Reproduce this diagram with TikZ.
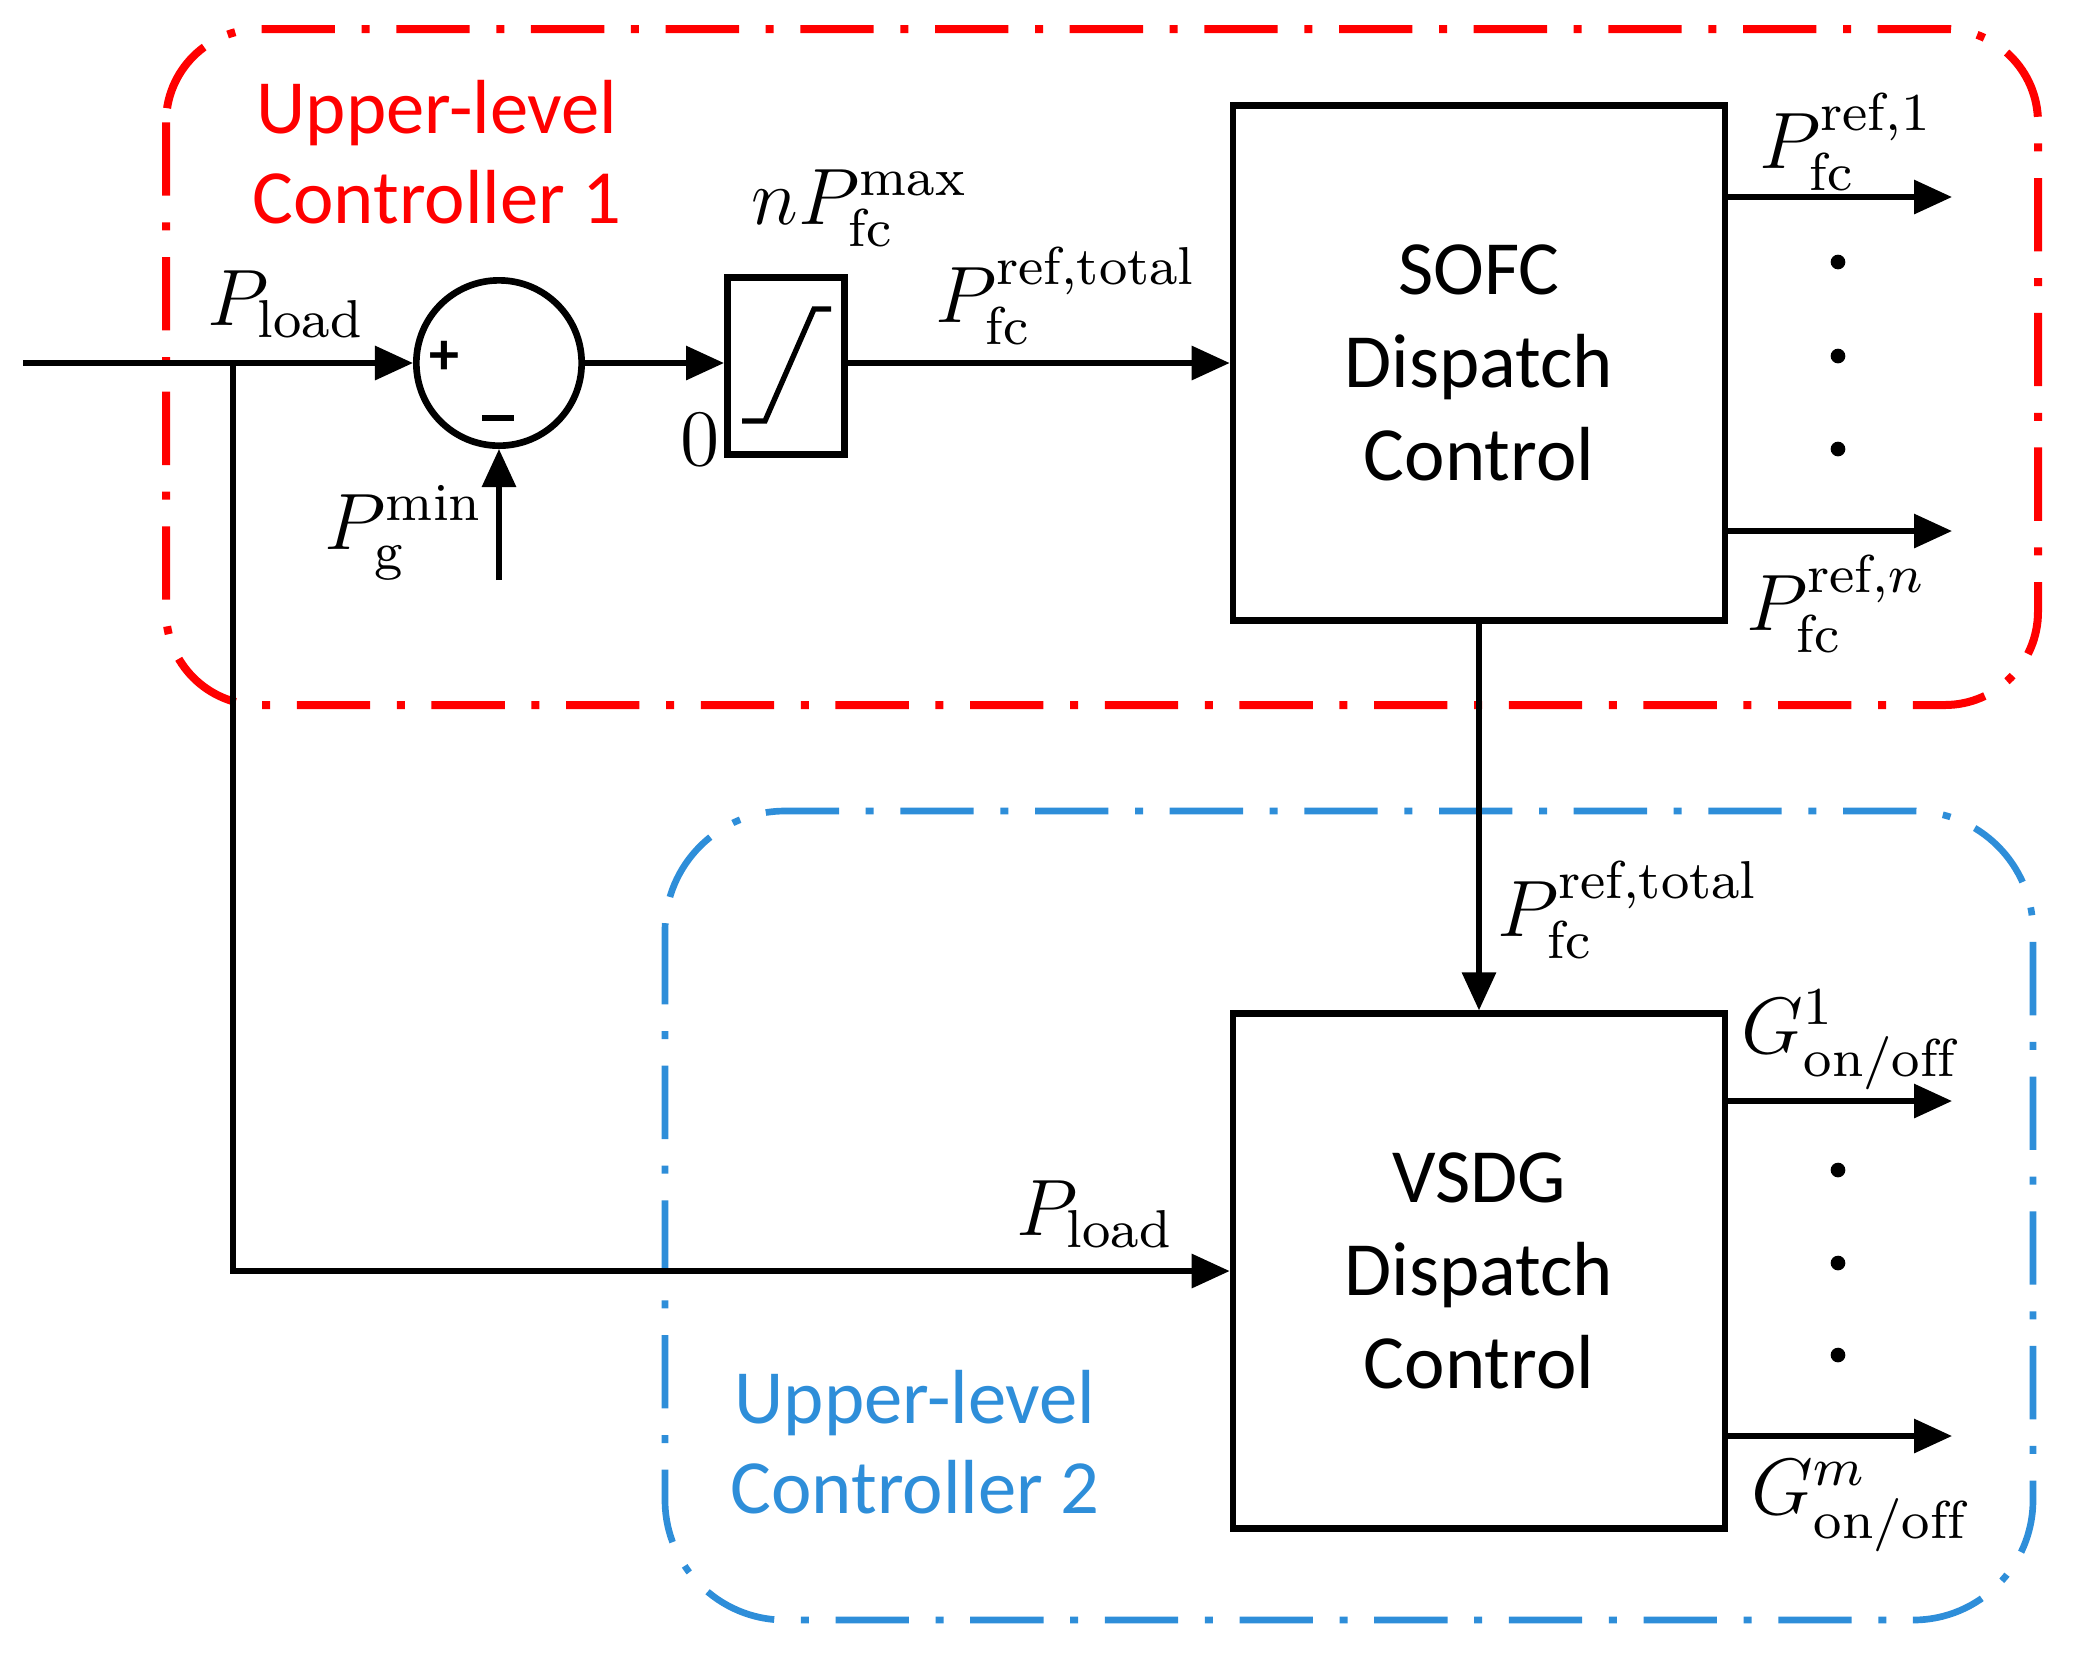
\RequirePackage{fix-cm}
\documentclass[tikz,border=0pt]{standalone}
\usepackage{amsmath}
\usepackage{fontspec}
\newfontfamily\calfont{Carlito}
\usepackage{tikz}
\usetikzlibrary{arrows.meta,calc}
\tikzset{
  sig/.style={-{Triangle[length=5.7pt,width=5pt]}, line width=0.8pt},
  wire/.style={line width=0.8pt},
  block/.style={draw, line width=1pt, minimum width=73.8pt, minimum height=77.2pt,
    inner sep=0pt, align=center, font=\calfont\fontsize{11.5}{14}\selectfont},
  lbl/.style={inner sep=0pt, font=\fontsize{12}{14}\selectfont},
  sign/.style={inner sep=0pt, font=\calfont\bfseries\fontsize{9}{10}\selectfont},
  ctrlbox/.style={rounded corners=#1, dash pattern=on 11pt off 4pt on 1.2pt off 4pt},
  ctrltext/.style={align=center, inner sep=0pt, font=\calfont\fontsize{11.5}{13.6}\selectfont}
}
\definecolor{ctrlred}{RGB}{255,0,0}
\definecolor{ctrlblue}{RGB}{46,142,217}

\begin{document}
\begin{tikzpicture}[x=0.15pt, y=-0.15pt]

  % page size of the reference
  \useasboundingbox (0,0) rectangle (2085,1664);

  % controller frames
  \draw[ctrlbox=14pt, ctrlred, line width=1.2pt] (166,29) rectangle (2038,705);
  \draw[ctrlbox=18pt, ctrlblue, line width=1pt] (665,811) rectangle (2033,1620);
  \node[ctrltext, text=ctrlred] (ctrlA) at (437,152) {Upper-level\\Controller 1};
  \node[ctrltext, text=ctrlblue] (ctrlB) at (915,1442) {Upper-level\\Controller 2};

  % blocks
  \node[block] (sofc) at (1479,363) {SOFC\\Dispatch\\Control};
  \node[block] (vsdg) at (1479,1271) {VSDG\\Dispatch\\Control};
  \node[draw, circle, line width=1pt, minimum size=24.8pt, inner sep=0pt] (sum) at (499,363) {};
  \node[draw, line width=1pt, minimum width=17.6pt, minimum height=26.6pt, inner sep=0pt] (sat) at (786,366) {};
  \draw[line width=0.8pt] ([shift={(-44,55)}]sat.center) -- ++(23,0) -- ++(49,-112) -- ++(17,0);
  \node[sign] (plus) at (444,358) {+};
  \node[sign] (minus) at (498,418) {\rule{4.8pt}{1pt}};

  % signal points
  \coordinate (in) at (23,363);
  \coordinate (br) at (233,363);
  \coordinate (pg) at (499,580);
  \coordinate (o1) at (1952,197);
  \coordinate (on) at (1952,531);
  \coordinate (g1) at (1952,1101);
  \coordinate (gm) at (1952,1436);

  % connectors
  \draw[wire] (in) -- (br);
  \draw[sig] (br) -- (sum.west);
  \draw[sig] (pg) -- (sum.south);
  \draw[sig] (sum.east) -- (sat.west |- sum.east);
  \draw[sig] (sat.east |- sum.east) -- (sofc.west);
  \draw[sig] (br) |- (vsdg.west);
  \draw[sig] (sofc.south) -- (vsdg.north);
  \draw[sig] (sofc.east |- o1) -- (o1);
  \draw[sig] (sofc.east |- on) -- (on);
  \draw[sig] (vsdg.east |- g1) -- (g1);
  \draw[sig] (vsdg.east |- gm) -- (gm);

  % dots between the outputs
  \foreach \y in {262,356,449,1170,1263,1355}
    \fill (1838,\y) circle (1.1pt);

  % signal labels
  \node[lbl] (lpload) at (286,304) {$P_{\mathrm{load}}$};
  \node[lbl] (lmax) at (860,208) {$nP_{\mathrm{fc}}^{\mathrm{max}}$};
  \node[lbl] (lzero) at (700,440) {$0$};
  \node[lbl] (ltot) at (1066,296) {$P_{\mathrm{fc}}^{\mathrm{ref,total}}$};
  \node[lbl] (lmin) at (404,533) {$P_{\mathrm{g}}^{\mathrm{min}}$};
  \node[lbl] (lref1) at (1846,142) {$P_{\mathrm{fc}}^{\mathrm{ref,1}}$};
  \node[lbl] (lrefn) at (1836,604) {$P_{\mathrm{fc}}^{\mathrm{ref,}n}$};
  \node[lbl] (ltot2) at (1628,910) {$P_{\mathrm{fc}}^{\mathrm{ref,total}}$};
  \node[lbl] (lg1) at (1850,1040) {$G_{\mathrm{on/off}}^{1}$};
  \node[lbl] (lgm) at (1860,1506) {$G_{\mathrm{on/off}}^{m}$};
  \node[lbl] (lpload2) at (1095,1214) {$P_{\mathrm{load}}$};

\end{tikzpicture}
\end{document}
